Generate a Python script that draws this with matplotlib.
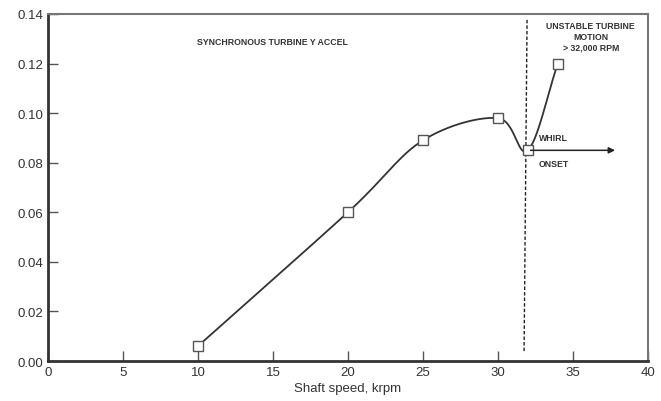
import numpy as np
import matplotlib
matplotlib.use("Agg")
import matplotlib.pyplot as plt

plt.rcParams['font.family'] = ['Liberation Sans', 'DejaVu Sans']

# measured points
speed = [10, 20, 25, 30, 32, 34]
accel = [0.006, 0.060, 0.089, 0.098, 0.085, 0.120]

xticks = [0, 5, 10, 15, 20, 25, 30, 35, 40]
yticks = [0.00, 0.02, 0.04, 0.06, 0.08, 0.10, 0.12, 0.14]


def catmull_rom(x, y, n=30):
    # smooth curve through the measured points (drawing only)
    p = np.column_stack([x, y]).astype(float)
    p = np.vstack([2 * p[0] - p[1], p, 2 * p[-1] - p[-2]])
    out = []
    t = np.linspace(0, 1, n)[:, None]
    for i in range(1, len(p) - 2):
        p0, p1, p2, p3 = p[i - 1], p[i], p[i + 1], p[i + 2]
        seg = 0.5 * ((2 * p1) + (-p0 + p2) * t + (2 * p0 - 5 * p1 + 4 * p2 - p3) * t ** 2
                     + (-p0 + 3 * p1 - 3 * p2 + p3) * t ** 3)
        out.append(seg)
    out = np.vstack(out)
    return out[:, 0], out[:, 1]


fig = plt.figure(figsize=(6.61, 4.02), dpi=100)
ax = fig.add_axes([0.0726, 0.0995, 0.9074, 0.8632])

sx, sy = catmull_rom(speed, accel)
ax.plot(sx, sy, color='#333333', lw=1.3, zorder=2)
ax.plot(speed, accel, ls='none', marker='s', ms=7, mfc='white', mec='#555555', mew=1.0, zorder=3)

# onset of whirl
ax.plot([31.75, 31.95], [0.004, 0.138], color='#222222', ls=(0, (2.5, 1.5)), lw=1.0, zorder=1)
ax.annotate('', xy=(38.0, 0.085), xytext=(32.0, 0.085),
            arrowprops=dict(arrowstyle='-|>', color='#222222', lw=1.1, mutation_scale=9))
ax.text(33.7, 0.0885, 'WHIRL', fontsize=6.3, fontweight='bold', ha='center', va='bottom', color='#333333')
ax.text(33.7, 0.0815, 'ONSET', fontsize=6.3, fontweight='bold', ha='center', va='top', color='#333333')
ax.text(36.2, 0.137, 'UNSTABLE TURBINE\nMOTION\n> 32,000 RPM', fontsize=6.3, fontweight='bold',
        ha='center', va='top', color='#333333', linespacing=1.25)
ax.text(15.0, 0.129, 'SYNCHRONOUS TURBINE Y ACCEL', fontsize=6.3, fontweight='bold',
        ha='center', va='center', color='#333333')

ax.set_xlim(0, 40)
ax.set_ylim(0, 0.14)
ax.set_xticks(xticks)
ax.set_yticks(yticks)
ax.set_yticklabels(['%.2f' % v for v in yticks])
ax.tick_params(direction='in', length=7, width=1, colors='#555555', labelcolor='#333333', labelsize=9.5)
ax.set_xlabel('Shaft speed, krpm', fontsize=9.5, color='#333333', labelpad=3)

for s in ['left', 'bottom']:
    ax.spines[s].set_linewidth(2.0)
    ax.spines[s].set_color('#333333')
for s in ['top', 'right']:
    ax.spines[s].set_linewidth(1.5)
    ax.spines[s].set_color('#777777')

fig.savefig('out.png', dpi=100)
